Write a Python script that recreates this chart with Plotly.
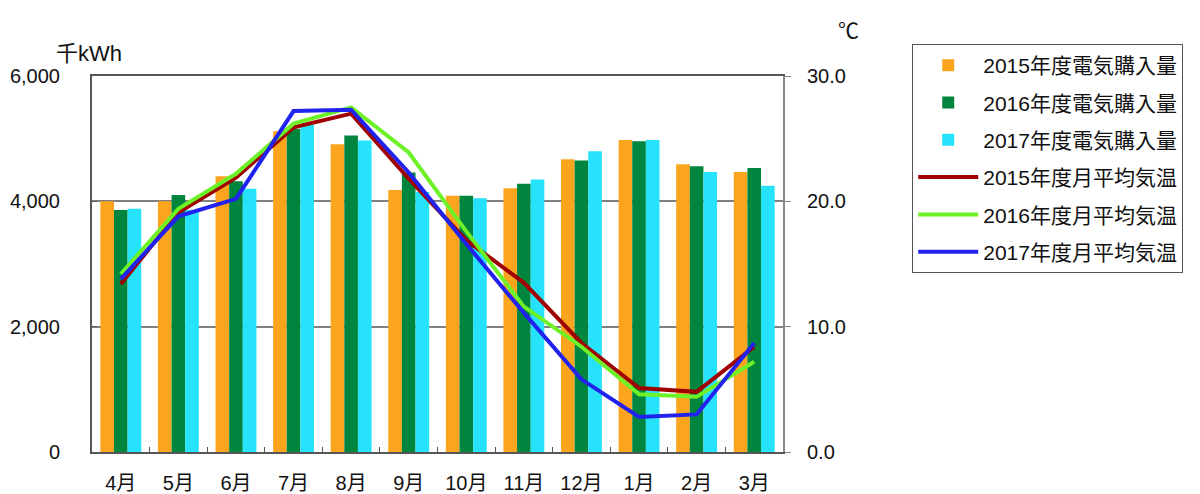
import plotly.graph_objects as go

months = ["4月", "5月", "6月", "7月", "8月", "9月", "10月", "11月", "12月", "1月", "2月", "3月"]

# 電気購入量 (千kWh)
elec_2015 = [4000, 4000, 4400, 5120, 4910, 4180, 4090, 4210, 4670, 4980, 4590, 4470]
elec_2016 = [3860, 4100, 4320, 5160, 5050, 4460, 4090, 4280, 4650, 4960, 4560, 4530]
elec_2017 = [3880, 3860, 4200, 5220, 4970, 4150, 4050, 4350, 4800, 4980, 4470, 4250]

# 月平均気温 (℃)
temp_2015 = [13.4, 19.1, 21.9, 25.9, 27.0, 21.8, 16.9, 13.5, 8.7, 5.1, 4.8, 8.4]
temp_2016 = [14.2, 19.4, 22.2, 26.2, 27.5, 23.9, 17.6, 11.6, 8.4, 4.6, 4.4, 7.2]
temp_2017 = [13.8, 18.8, 20.2, 27.2, 27.3, 22.3, 16.6, 11.1, 5.8, 2.8, 3.0, 8.7]

bar_names = ["2015年度電気購入量", "2016年度電気購入量", "2017年度電気購入量"]
line_names = ["2015年度月平均気温", "2016年度月平均気温", "2017年度月平均気温"]
bar_colors = ["#FBA51E", "#00853E", "#26E2FA"]
line_colors = ["#A00000", "#6CF226", "#2222EE"]

FONT = "Liberation Sans, Arial, Noto Sans CJK JP, sans-serif"

fig = go.Figure()
for i, (name, vals, col) in enumerate(zip(bar_names, [elec_2015, elec_2016, elec_2017], bar_colors)):
    fig.add_trace(go.Bar(x=months, y=vals, name=name, marker=dict(color=col, line=dict(width=0)),
                         legendgroup=f"g{i}", yaxis="y"))
for i, (name, vals, col) in enumerate(zip(line_names, [temp_2015, temp_2016, temp_2017], line_colors)):
    fig.add_trace(go.Scatter(x=months, y=vals, name=name, mode="lines",
                             line=dict(color=col, width=4), legendgroup=f"l{i}", yaxis="y2"))

fig.update_layout(
    width=1200, height=494,
    margin=dict(l=92, r=417, t=76, b=42),
    paper_bgcolor="white", plot_bgcolor="white",
    font=dict(family=FONT, size=20, color="#111"),
    barmode="group", bargap=0.29, bargroupgap=0,
    showlegend=True,
    legend=dict(x=1.187, y=1.085, xanchor="left", yanchor="top",
                bgcolor="white", bordercolor="#555", borderwidth=1,
                font=dict(family=FONT, size=21, color="#111"),
                itemwidth=60, tracegroupgap=7, traceorder="grouped"),
    xaxis=dict(type="category", showline=True, linecolor="#555", linewidth=2,
               mirror=True, ticks="inside", tickson="boundaries", ticklen=5,
               tickcolor="#555", tickfont=dict(size=20, family=FONT),
               ticklabelstandoff=12, showgrid=False, automargin=False),
    yaxis=dict(range=[0, 6000], dtick=2000, tickformat=",d", showline=True,
               linecolor="#555", linewidth=2, ticks="inside", ticklen=5,
               tickcolor="#555", showgrid=True, gridcolor="#808080", gridwidth=1.5,
               zeroline=False, tickfont=dict(size=20, family=FONT),
               ticklabelstandoff=26, automargin=False),
    yaxis2=dict(range=[0, 30], dtick=10, tickformat=".1f", overlaying="y", side="right",
                showline=True, linecolor="#888", linewidth=2, ticks="outside", ticklen=6,
                tickcolor="#888", showgrid=False, zeroline=False,
                tickfont=dict(size=20, family=FONT), ticklabelstandoff=12, automargin=False),
    annotations=[
        dict(text="千kWh", xref="paper", yref="paper", x=-0.005, y=1.022,
             xanchor="center", yanchor="bottom", showarrow=False,
             font=dict(size=22, family=FONT)),
        dict(text="℃", xref="paper", yref="paper", x=1.095, y=1.085,
             xanchor="center", yanchor="bottom", showarrow=False,
             font=dict(size=21, family=FONT)),
    ],
)

fig.write_html("out.html")
